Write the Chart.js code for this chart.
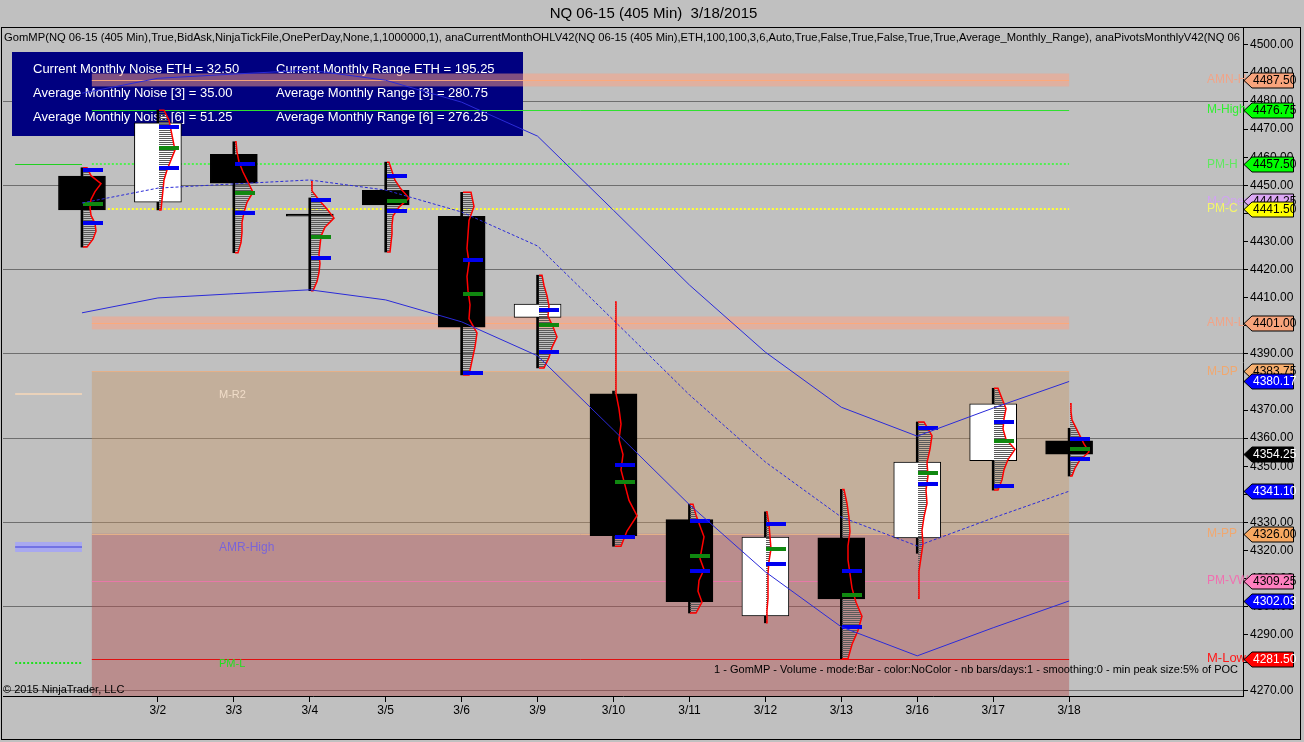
<!DOCTYPE html>
<html>
<head>
<meta charset="utf-8">
<title>NQ 06-15 (405 Min) 3/18/2015</title>
<script src="https://cdn.jsdelivr.net/npm/chart.js@4.4.1/dist/chart.umd.min.js"></script>
<style>
	html, body { margin: 0; padding: 0; background: #c0c0c0; }
</style>
</head>
<body>
<canvas id="nqChart" width="1304" height="742"></canvas>
<script>
// session dates, one 405 min bar per day
const dates = ["2/27", "3/2", "3/3", "3/4", "3/5", "3/6", "3/9", "3/10", "3/11", "3/12", "3/13", "3/16", "3/17", "3/18"];
const open = [4453.25, 4444.00, 4461.00, 4439.75, 4448.25, 4439.00, 4403.00, 4375.75, 4331.00, 4296.75, 4324.50, 4324.50, 4352.00, 4359.00];
const high = [4456.25, 4476.75, 4465.50, 4445.50, 4458.25, 4447.50, 4418.00, 4376.75, 4336.50, 4333.75, 4341.75, 4365.75, 4377.75, 4363.50];
const low = [4428.00, 4441.25, 4426.00, 4412.50, 4426.25, 4382.50, 4385.00, 4321.50, 4297.75, 4294.25, 4281.50, 4319.00, 4341.50, 4346.50];
const close = [4441.25, 4472.25, 4450.75, 4439.00, 4443.00, 4399.50, 4407.75, 4325.25, 4301.75, 4324.75, 4302.75, 4351.50, 4372.25, 4354.25];

// GomMP volume profile (top row to bottom row)
const profHigh = [4456.25, 4476.75, 4465.50, 4451.25, 4458.25, 4447.50, 4418.00, 4408.50, 4336.50, 4333.75, 4341.75, 4365.75, 4377.75, 4372.25];
const profLow = [4428.00, 4441.25, 4426.00, 4412.50, 4426.25, 4382.50, 4385.00, 4321.50, 4297.75, 4294.25, 4281.50, 4303.00, 4341.50, 4346.50];
const profileVolume = [
	[4, 8, 18, 12, 8, 7, 8, 12, 13, 10, 4],
	[5, 10, 12, 14, 16, 12, 8, 5, 4, 3, 2],
	[1, 2, 4, 8, 13, 18, 12, 9, 7, 7, 6, 3],
	[1, 1, 8, 16, 23, 14, 10, 9, 8, 9, 8, 6, 2],
	[2, 5, 8, 14, 22, 12, 6, 5, 5, 4, 3],
	[8, 11, 6, 5, 4, 6, 4, 5, 7, 6, 14, 12, 9, 6],
	[3, 5, 8, 10, 9, 14, 18, 13, 10, 5],
	[1, 1, 1, 1, 1, 1, 1, 4, 6, 4, 8, 6, 10, 14, 22, 12, 6],
	[3, 6, 10, 14, 12, 10, 14, 9, 8, 12, 6],
	[1, 3, 4, 5, 3, 2, 2, 2, 1, 1],
	[2, 5, 7, 8, 6, 6, 8, 10, 14, 20, 16, 10, 6],
	[6, 14, 12, 9, 10, 8, 9, 6, 4, 5, 3, 1, 1, 1],
	[4, 8, 12, 10, 9, 12, 21, 14, 10, 8, 4],
	[1, 1, 2, 6, 10, 14, 19, 10, 5, 2],
];
const vah = [4455.75, 4471.00, 4458.00, 4445.00, 4453.75, 4423.75, 4406.00, 4350.75, 4331.00, 4329.75, 4313.00, 4364.00, 4366.00, 4360.00];
const val = [4437.00, 4456.50, 4440.50, 4424.50, 4441.25, 4383.50, 4391.00, 4325.25, 4313.00, 4315.50, 4293.00, 4344.00, 4343.25, 4353.00];
const poc = [4443.75, 4463.50, 4447.50, 4432.00, 4444.75, 4411.75, 4400.50, 4344.75, 4318.50, 4321.00, 4304.50, 4348.00, 4359.25, 4356.50];

// range bands
const bandUpper = [4482.80, 4488.10, 4489.60, 4491.00, 4487.40, 4479.60, 4467.50, 4441.10, 4414.50, 4390.60, 4371.00, 4360.70, 4370.70, 4380.17];
const bandMid = [4443.70, 4449.00, 4450.50, 4451.90, 4448.30, 4440.50, 4428.40, 4402.00, 4375.40, 4351.50, 4331.90, 4321.60, 4331.60, 4341.10];
const bandLower = [4404.60, 4409.90, 4411.40, 4412.80, 4409.20, 4401.40, 4389.30, 4362.90, 4336.30, 4312.40, 4292.80, 4282.50, 4292.50, 4302.03];

// monthly pivots
const levelNames = ["AMN-H", "M-High", "PM-H", "M-Open", "PM-C", "AMN-L", "M-DP", "M-PP", "PM-VWAP", "M-Low"];
const levelValues = [4487.50, 4476.75, 4457.50, 4444.25, 4441.50, 4401.00, 4383.75, 4326.00, 4309.25, 4281.50];
const innerNames = ["PM-H", "M-R2", "AMR-High", "PM-L"];
const innerValues = [4457.50, 4375.75, 4321.25, 4280.00];

const noiseNames = ["Current Monthly Noise ETH", "Average Monthly Noise [3]", "Average Monthly Noise [6]"];
const noiseValues = [32.50, 35.00, 51.25];
const rangeNames = ["Current Monthly Range ETH", "Average Monthly Range [3]", "Average Monthly Range [6]"];
const rangeValues = [195.25, 280.75, 276.25];

const priceTicks = [4270, 4280, 4290, 4300, 4310, 4320, 4330, 4340, 4350, 4360, 4370, 4380, 4390, 4400, 4410, 4420, 4430, 4440, 4450, 4460, 4470, 4480, 4490, 4500];
const gridPrices = [4270, 4300, 4330, 4360, 4390, 4420, 4450, 4480];

const indicatorText = "GomMP(NQ 06-15 (405 Min),True,BidAsk,NinjaTickFile,OnePerDay,None,1,1000000,1), anaCurrentMonthOHLV42(NQ 06-15 (405 Min),ETH,100,100,3,6,Auto,True,False,True,False,True,True,Average_Monthly_Range), anaPivotsMonthlyV42(NQ 06";
const profileLegend = "1 - GomMP - Volume - mode:Bar - color:NoColor - nb bars/days:1 - smoothing:0 - min peak size:5% of POC";

const fontFamily = '"Liberation Sans", Arial, sans-serif';
const narrowFamily = '"Liberation Sans Narrow", "Liberation Sans", Arial, sans-serif';

const levelStyle = {
	"AMN-H": { tag: "#f8a47c", text: "#000", label: "#f0a488" },
	"M-High": { tag: "#00ff00", text: "#000", label: "#30f030", line: "#30e030", width: 1 },
	"PM-H": { tag: "#00ff00", text: "#000", label: "#60e860", line: "#50f050", width: 2, dash: [2, 2] },
	"M-Open": { tag: "#dca8f4", text: "#000", label: "#d0a4f0" },
	"PM-C": { tag: "#ffff00", text: "#000", label: "#f4f46c", line: "#ffff30", width: 2, dash: [2, 2] },
	"AMN-L": { tag: "#f8a47c", text: "#000", label: "#f0a488" },
	"M-DP": { tag: "#f8b070", text: "#000", label: "#f0a870", line: "#e4b088", width: 1 },
	"M-PP": { tag: "#f8a860", text: "#000", label: "#f0a870", line: "#e4b088", width: 1 },
	"PM-VWAP": { tag: "#ff80c0", text: "#000", label: "#f070b0", line: "#e878a8", width: 1 },
	"M-Low": { tag: "#ff0000", text: "#fff", label: "#ff1818", line: "#e01010", width: 1 },
};
const innerStyle = {
	"PM-H": { color: "#20d020", width: 1 },
	"M-R2": { color: "#f8d8b8", width: 1.5, label: "#f0dcc8" },
	"AMR-High": { color: "#6060e0", width: 1.5, band: "#a8a8f0", label: "#7a64d8" },
	"PM-L": { color: "#20e020", width: 2, dash: [2, 2], label: "#20e020" },
};

const hLine = (ctx, x1, x2, yPix, color, width, dash) => {
	ctx.save();
	ctx.strokeStyle = color;
	ctx.lineWidth = width;
	ctx.setLineDash(dash || []);
	ctx.beginPath();
	const yy = width % 2 === 1 ? Math.round(yPix) + 0.5 : Math.round(yPix);
	ctx.moveTo(x1, yy);
	ctx.lineTo(x2, yy);
	ctx.stroke();
	ctx.restore();
};

// month lines, zones, info box (behind the bars)
const levelsPlugin = {
	id: "levels",
	beforeDatasetsDraw(chart) {
		const { ctx, scales: { x, y } } = chart;
		const monthStart = x.getPixelForValue(0.13);
		const monthEnd = x.getPixelForValue(dates.length - 1);
		const prevStart = x.getPixelForValue(-0.88);
		const prevEnd = x.getPixelForValue(0);
		const lv = (name) => y.getPixelForValue(levelValues[levelNames.indexOf(name)]);

		// info box
		ctx.save();
		ctx.fillStyle = "#000080";
		ctx.fillRect(12, 52, 511, 84);
		ctx.fillStyle = "#fff";
		ctx.font = "13px " + fontFamily;
		ctx.textBaseline = "middle";
		noiseNames.forEach((n, i) => {
			ctx.fillText(n + " = " + noiseValues[i].toFixed(2), 33, 69 + i * 24);
			ctx.fillText(rangeNames[i] + " = " + rangeValues[i].toFixed(2), 276, 69 + i * 24);
		});
		ctx.restore();

		// zones
		ctx.save();
		ctx.fillStyle = "rgba(200, 150, 100, 0.4)";
		ctx.fillRect(monthStart, lv("M-DP"), monthEnd - monthStart, lv("M-PP") - lv("M-DP"));
		ctx.fillStyle = "rgba(180, 80, 80, 0.45)";
		ctx.fillRect(monthStart, lv("M-PP"), monthEnd - monthStart, y.getPixelForValue(y.min) - lv("M-PP"));
		["AMN-H", "AMN-L"].forEach((n) => {
			const v = levelValues[levelNames.indexOf(n)];
			const top = y.getPixelForValue(v + 2.3);
			const bot = y.getPixelForValue(v - 2.3);
			ctx.fillStyle = "rgba(255, 160, 128, 0.5)";
			ctx.fillRect(monthStart, top, monthEnd - monthStart, bot - top);
			hLine(ctx, monthStart, monthEnd, y.getPixelForValue(v), "rgba(255, 168, 120, 0.9)", 1);
		});
		ctx.restore();

		// level lines and right side names
		levelNames.forEach((n, i) => {
			const s = levelStyle[n];
			const yp = y.getPixelForValue(levelValues[i]);
			if (s.line) {
				hLine(ctx, monthStart, monthEnd, yp, s.line, s.width, s.dash);
			}
			ctx.save();
			ctx.fillStyle = s.label;
			ctx.font = (n === "M-Low" ? "13px " : "12px ") + fontFamily;
			ctx.textBaseline = "middle";
			ctx.fillText(n, 1207, yp);
			ctx.restore();
		});

		// previous month segments and inner names
		innerNames.forEach((n, i) => {
			const s = innerStyle[n];
			const yp = y.getPixelForValue(innerValues[i]);
			if (s.band) {
				ctx.fillStyle = s.band;
				ctx.fillRect(prevStart, yp - 5, prevEnd - prevStart, 10);
			}
			hLine(ctx, prevStart, prevEnd, yp, s.color, s.width, s.dash);
			if (s.label) {
				ctx.save();
				ctx.fillStyle = s.label;
				ctx.font = (n === "AMR-High" ? "12px " : "11px ") + fontFamily;
				ctx.textBaseline = "middle";
				ctx.fillText(n, 219, yp + 1);
				ctx.restore();
			}
		});
	},
};

// GomMP profiles drawn over the candle bodies
let hatch = null;
const profilePlugin = {
	id: "profiles",
	afterDatasetDraw(chart, args) {
		if (args.index !== 1) {
			return;
		}
		const { ctx, chartArea, scales: { x, y } } = chart;
		const bodies = chart.getDatasetMeta(1).data;
		if (!hatch) {
			const c = document.createElement("canvas");
			c.width = 2;
			c.height = 2;
			const hc = c.getContext("2d");
			hc.fillStyle = "#5a5a5a";
			hc.fillRect(0, 0, 2, 1);
			hatch = ctx.createPattern(c, "repeat");
		}
		const volumePx = 1;
		dates.forEach((d, i) => {
			const vols = profileVolume[i];
			const cx = Math.round(x.getPixelForValue(i)) + 1;
			const step = (profHigh[i] - profLow[i]) / (vols.length - 1);
			const pts = vols.map((v, k) => [cx + v * volumePx, y.getPixelForValue(profHigh[i] - k * step)]);
			const yTop = pts[0][1];
			const yBot = pts[pts.length - 1][1];
			ctx.save();
			// the hatch does not show on black bodies
			if (close[i] < open[i]) {
				const b = bodies[i];
				const top = Math.min(b.y, b.base);
				ctx.beginPath();
				ctx.rect(chartArea.left, chartArea.top, chartArea.width, chartArea.height);
				ctx.rect(b.x - b.width / 2, top, b.width, Math.abs(b.base - b.y));
				ctx.clip("evenodd");
			}
			ctx.beginPath();
			ctx.moveTo(cx, yTop);
			pts.forEach((p) => ctx.lineTo(p[0], p[1]));
			ctx.lineTo(cx, yBot);
			ctx.closePath();
			ctx.fillStyle = hatch;
			ctx.fill();
			ctx.restore();

			ctx.save();
			ctx.beginPath();
			ctx.moveTo(cx, yTop);
			pts.forEach((p) => ctx.lineTo(p[0], p[1]));
			ctx.lineTo(cx, yBot);
			ctx.strokeStyle = "#ff0000";
			ctx.lineWidth = 1.5;
			ctx.stroke();
			const mark = (price, color) => {
				ctx.fillStyle = color;
				ctx.fillRect(cx, Math.round(y.getPixelForValue(price)) - 1, 20, 4);
			};
			mark(vah[i], "#0000f0");
			mark(val[i], "#0000f0");
			mark(poc[i], "#108810");
			ctx.restore();
		});
	},
};

// price tags, texts and frame
const overlayPlugin = {
	id: "overlay",
	afterDraw(chart) {
		const { ctx, chartArea, scales: { y } } = chart;
		const tags = levelNames.map((n, i) => ({ v: levelValues[i], fill: levelStyle[n].tag, text: levelStyle[n].text }));
		tags.push({ v: bandUpper[bandUpper.length - 1], fill: "#0000ff", text: "#fff" });
		tags.push({ v: bandMid[bandMid.length - 1], fill: "#0000ff", text: "#fff" });
		tags.push({ v: bandLower[bandLower.length - 1], fill: "#0000ff", text: "#fff" });
		tags.push({ v: close[close.length - 1], fill: "#000000", text: "#fff" });
		tags.sort((a, b) => b.v - a.v);
		const x0 = chartArea.right + 1;
		tags.forEach((t) => {
			const yp = Math.round(y.getPixelForValue(t.v)) + 0.5;
			ctx.save();
			ctx.beginPath();
			ctx.moveTo(x0, yp);
			ctx.lineTo(x0 + 8, yp - 7.5);
			ctx.lineTo(1293.5, yp - 7.5);
			ctx.lineTo(1293.5, yp + 7.5);
			ctx.lineTo(x0 + 8, yp + 7.5);
			ctx.closePath();
			ctx.fillStyle = t.fill;
			ctx.fill();
			ctx.strokeStyle = "#000";
			ctx.lineWidth = 1;
			ctx.stroke();
			ctx.fillStyle = t.text;
			ctx.font = "12px " + fontFamily;
			ctx.textBaseline = "middle";
			ctx.fillText(t.v.toFixed(2), x0 + 9, yp + 0.5);
			ctx.restore();
		});

		ctx.save();
		ctx.fillStyle = "#000";
		ctx.textBaseline = "middle";
		ctx.font = "11px " + fontFamily;
		const w = ctx.measureText(indicatorText).width;
		ctx.translate(4, 38);
		ctx.scale(1236 / w, 1);
		ctx.fillText(indicatorText, 0, 0);
		ctx.restore();

		ctx.save();
		ctx.fillStyle = "#000";
		ctx.textBaseline = "middle";
		ctx.font = "11px " + fontFamily;
		ctx.textAlign = "right";
		ctx.fillText(profileLegend, 1238, 670);
		ctx.textAlign = "left";
		ctx.fillText("\u00a9 2015 NinjaTrader, LLC", 3, 690);
		ctx.strokeStyle = "#000";
		ctx.lineWidth = 1;
		ctx.strokeRect(1.5, 27.5, 1299, 712);
		ctx.restore();
	},
};

const ctx = document.getElementById("nqChart").getContext("2d");
Chart.defaults.font.family = fontFamily;
Chart.defaults.color = "#000";

new Chart(ctx, {
	type: "bar",
	data: {
		datasets: [
			{
				type: "line",
				data: bandUpper.map((v, i) => ({ x: i, y: v })),
				borderColor: "#2a2ad8",
				borderWidth: 1,
				pointRadius: 0,
				tension: 0,
				order: 0,
			},
			{
				type: "bar",
				data: dates.map((d, i) => ({ x: i, y: [open[i], close[i]] })),
				backgroundColor: (c) => (close[c.dataIndex] < open[c.dataIndex] ? "#000" : "#fff"),
				borderColor: "#000",
				borderWidth: 1,
				borderSkipped: false,
				barThickness: 47,
				grouped: false,
				order: 2,
			},
			{
				type: "bar",
				data: dates.map((d, i) => ({ x: i, y: [low[i], high[i]] })),
				backgroundColor: "#000",
				borderWidth: 0,
				barThickness: 2,
				grouped: false,
				order: 3,
			},
			{
				type: "line",
				data: bandMid.map((v, i) => ({ x: i, y: v })),
				borderColor: "#2a2ad8",
				borderWidth: 1,
				borderDash: [3, 2],
				pointRadius: 0,
				tension: 0,
				order: 0,
			},
			{
				type: "line",
				data: bandLower.map((v, i) => ({ x: i, y: v })),
				borderColor: "#2a2ad8",
				borderWidth: 1,
				pointRadius: 0,
				tension: 0,
				order: 0,
			},
		],
	},
	options: {
		responsive: false,
		animation: false,
		layout: { padding: { left: 3, right: 0, top: 0, bottom: 0 } },
		plugins: {
			legend: { display: false },
			tooltip: { enabled: false },
			title: {
				display: true,
				text: "NQ 06-15 (405 Min)  3/18/2015",
				color: "#000",
				font: { size: 15, weight: "normal" },
				padding: { top: 5, bottom: 5 },
			},
		},
		scales: {
			x: {
				type: "linear",
				min: -1.04,
				max: 15.29,
				offset: false,
				afterBuildTicks: (scale) => {
					scale.ticks = dates.slice(1).map((d, i) => ({ value: i + 1 }));
				},
				afterFit: (scale) => {
					scale.height = 46;
				},
				ticks: {
					callback: (v) => dates[v] || "",
					autoSkip: false,
					maxRotation: 0,
					padding: 1,
					color: "#000",
					font: { family: narrowFamily, size: 12 },
				},
				grid: { drawOnChartArea: false, drawTicks: true, tickLength: 6, tickColor: "#000", offset: false },
				border: { display: true, color: "#000" },
			},
			y: {
				type: "linear",
				position: "right",
				min: 4268.2,
				max: 4506.0,
				afterBuildTicks: (scale) => {
					scale.ticks = priceTicks.map((v) => ({ value: v }));
				},
				afterFit: (scale) => {
					scale.width = 61;
				},
				ticks: {
					callback: (v) => v.toFixed(2),
					padding: 2,
					color: "#000",
					font: { size: 12 },
				},
				grid: {
					color: (c) => (c.tick && gridPrices.includes(c.tick.value) ? "#6e6e6e" : "rgba(0,0,0,0)"),
					tickColor: "#000",
					tickLength: 5,
				},
				border: { display: true, color: "#000" },
			},
		},
	},
	plugins: [levelsPlugin, profilePlugin, overlayPlugin],
});
</script>
</body>
</html>
